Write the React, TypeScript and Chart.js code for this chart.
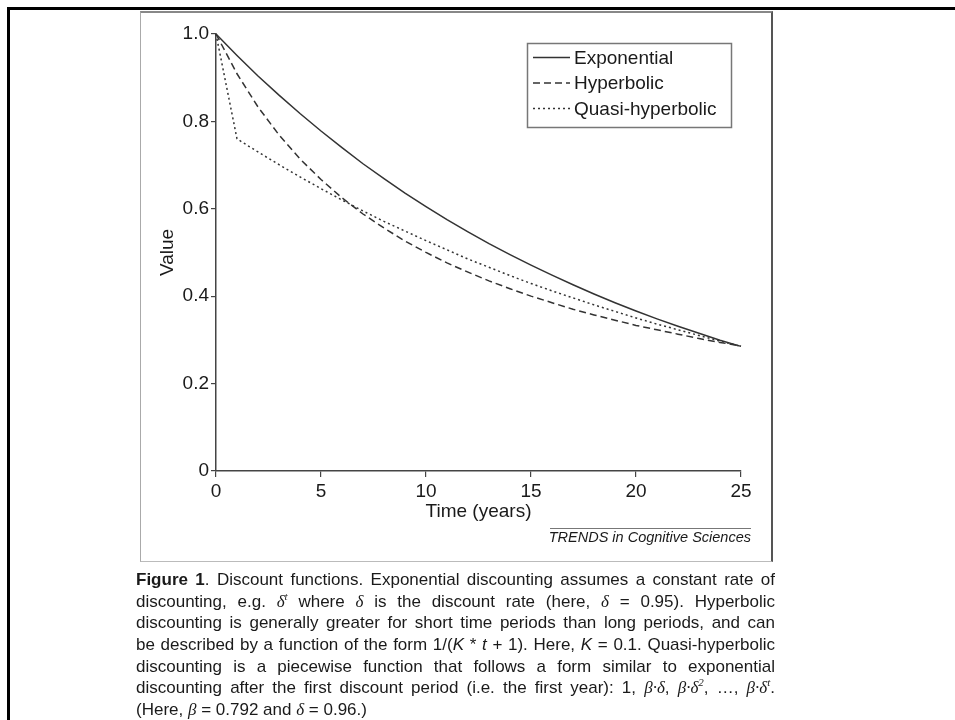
import React, { useEffect, useRef } from 'react';
import { Chart, registerables } from 'chart.js';

Chart.register(...registerables);

// ---- data ----
const TIME_YEARS = [0, 1, 2, 3, 4, 5, 6, 7, 8, 9, 10, 11, 12, 13, 14, 15, 16, 17, 18, 19, 20, 21, 22, 23, 24, 25];
const EXPONENTIAL = [1.0, 0.951, 0.904, 0.860, 0.818, 0.778, 0.740, 0.703, 0.669, 0.636, 0.605, 0.575, 0.547, 0.520, 0.495, 0.471, 0.448, 0.426, 0.405, 0.385, 0.366, 0.348, 0.331, 0.315, 0.299, 0.285];
const HYPERBOLIC = [1.0, 0.909, 0.833, 0.769, 0.714, 0.667, 0.625, 0.588, 0.556, 0.526, 0.5, 0.476, 0.455, 0.435, 0.417, 0.4, 0.385, 0.370, 0.357, 0.345, 0.333, 0.323, 0.313, 0.303, 0.294, 0.286];
const QUASI_HYPERBOLIC = [1.0, 0.760, 0.730, 0.701, 0.673, 0.646, 0.620, 0.595, 0.571, 0.549, 0.527, 0.506, 0.485, 0.466, 0.447, 0.429, 0.412, 0.396, 0.380, 0.365, 0.350, 0.336, 0.323, 0.310, 0.297, 0.285];
const SERIES_LABELS = ['Exponential', 'Hyperbolic', 'Quasi-hyperbolic'];
const X_TICKS = [0, 5, 10, 15, 20, 25];
const Y_TICKS = [0, 0.2, 0.4, 0.6, 0.8, 1.0];
const X_TITLE = 'Time (years)';
const Y_TITLE = 'Value';
const SOURCE = 'TRENDS in Cognitive Sciences';

const FONT = '"Liberation Sans", Arial, Helvetica, sans-serif';
const INK = '#1a1a1a';

const legendPlugin = {
  id: 'boxLegend',
  afterDraw(chart: any) {
    const ctx = chart.ctx as CanvasRenderingContext2D;
    ctx.save();
    ctx.strokeStyle = '#777';
    ctx.lineWidth = 1.5;
    ctx.setLineDash([]);
    ctx.strokeRect(527.5, 43.5, 204, 84);
    chart.data.datasets.forEach((ds: any, i: number) => {
      const y = 57.5 + i * 25.5;
      ctx.setLineDash(ds.borderDash || []);
      ctx.strokeStyle = ds.borderColor;
      ctx.lineWidth = ds.borderWidth;
      ctx.beginPath();
      ctx.moveTo(533, y);
      ctx.lineTo(570, y);
      ctx.stroke();
      ctx.setLineDash([]);
      ctx.fillStyle = INK;
      ctx.font = '19px ' + FONT;
      ctx.textBaseline = 'middle';
      ctx.textAlign = 'left';
      ctx.fillText(ds.label, 574, y + 1);
    });
    ctx.restore();
  },
};

function toPoints(vals: number[]) {
  return TIME_YEARS.map((t, i) => ({ x: t, y: vals[i] }));
}

export default function App() {
  const canvasRef = useRef<HTMLCanvasElement | null>(null);

  useEffect(() => {
    if (!canvasRef.current) return;
    const lineBase = { borderColor: '#333', borderWidth: 1.5, pointRadius: 0, tension: 0, fill: false };
    const chart = new Chart(canvasRef.current, {
      type: 'line',
      data: {
        datasets: [
          { ...lineBase, label: SERIES_LABELS[0], data: toPoints(EXPONENTIAL), borderDash: [] },
          { ...lineBase, label: SERIES_LABELS[1], data: toPoints(HYPERBOLIC), borderDash: [7, 4] },
          { ...lineBase, label: SERIES_LABELS[2], data: toPoints(QUASI_HYPERBOLIC), borderDash: [2, 3] },
        ],
      },
      options: {
        responsive: false,
        animation: false,
        clip: false as any,
        layout: { padding: { left: 156.6, right: 214, top: 34, bottom: 196.6 } },
        plugins: { legend: { display: false }, tooltip: { enabled: false } },
        scales: {
          x: {
            type: 'linear',
            min: 0,
            max: 25,
            afterBuildTicks: (s: any) => { s.ticks = X_TICKS.map((v) => ({ value: v })); },
            afterFit: (s: any) => { s.height = 52.5; },
            ticks: { font: { family: FONT, size: 19 }, color: INK, padding: 3, maxRotation: 0, autoSkip: false },
            grid: { display: true, drawOnChartArea: false, drawTicks: true, tickLength: 6, color: '#444', lineWidth: 1.2 },
            border: { display: true, color: '#444', width: 1.5 },
            title: { display: true, text: X_TITLE, font: { family: FONT, size: 19 }, color: INK, padding: 0 },
          },
          y: {
            type: 'linear',
            min: 0,
            max: 1,
            afterBuildTicks: (s: any) => { s.ticks = Y_TICKS.map((v) => ({ value: v })); },
            afterFit: (s: any) => { s.width = 59.4; },
            ticks: {
              font: { family: FONT, size: 19 },
              color: INK,
              padding: 2,
              callback: (v: any) => (Number(v) === 0 ? '0' : Number(v).toFixed(1)),
            },
            grid: { display: true, drawOnChartArea: false, drawTicks: true, tickLength: 5, color: '#444', lineWidth: 1.2 },
            border: { display: true, color: '#444', width: 1.5 },
            title: { display: true, text: Y_TITLE, font: { family: FONT, size: 19 }, color: INK, padding: 0 },
          },
        },
      },
      plugins: [legendPlugin],
    } as any);
    return () => chart.destroy();
  }, []);

  const sym: React.CSSProperties = { fontFamily: '"Liberation Serif", "Times New Roman", serif', fontStyle: 'italic' };
  const supS: React.CSSProperties = { fontSize: 11, lineHeight: 0, verticalAlign: 'baseline', position: 'relative', top: -7 };
  const lineStyle: React.CSSProperties = { textAlign: 'justify', textAlignLast: 'justify' as any, width: 639, height: 21.7, overflow: 'visible' };

  return (
    <div style={{ position: 'absolute', left: 0, top: 0, width: 955, height: 720, overflow: 'hidden', background: '#fff', fontFamily: FONT }}>
      <div style={{ position: 'absolute', left: 7, top: 7, width: 980, height: 740, borderTop: '3px solid #000', borderLeft: '3px solid #000' }} />
      <div style={{ position: 'absolute', left: 140, top: 11, width: 630, height: 548, borderTop: '2px solid #888', borderLeft: '1px solid #aaa', borderRight: '2px solid #555', borderBottom: '1px solid #bbb' }} />
      <canvas ref={canvasRef} width={955} height={720} style={{ position: 'absolute', left: 0, top: 0, width: 955, height: 720 }} />
      <div style={{ position: 'absolute', left: 550, top: 528, width: 201, height: 1, background: '#777' }} />
      <div style={{ position: 'absolute', left: 530, top: 530, width: 221, textAlign: 'right', fontStyle: 'italic', fontSize: 14.5, lineHeight: '14.5px', color: INK, whiteSpace: 'nowrap' }}>{SOURCE}</div>
      <div style={{ position: 'absolute', left: 136, top: 569, fontSize: 17, lineHeight: '21.7px', color: INK }}>
        <div style={lineStyle}><b>Figure 1</b>. Discount functions. Exponential discounting assumes a constant rate of</div>
        <div style={lineStyle}>discounting, e.g. <span style={sym}>δ<span style={supS}>t</span></span> where <span style={sym}>δ</span> is the discount rate (here, <span style={sym}>δ</span> = 0.95). Hyperbolic</div>
        <div style={lineStyle}>discounting is generally greater for short time periods than long periods, and can</div>
        <div style={lineStyle}>be described by a function of the form 1/(<i>K</i> * <i>t</i> + 1). Here, <i>K</i> = 0.1. Quasi-hyperbolic</div>
        <div style={lineStyle}>discounting is a piecewise function that follows a form similar to exponential</div>
        <div style={lineStyle}>discounting after the first discount period (i.e. the first year): 1, <span style={sym}>β·δ</span>, <span style={sym}>β·δ<span style={supS}>2</span></span>, …, <span style={sym}>β·δ<span style={supS}>t</span></span>.</div>
        <div style={{ height: 21.7 }}>(Here, <span style={sym}>β</span> = 0.792 and <span style={sym}>δ</span> = 0.96.)</div>
      </div>
    </div>
  );
}
